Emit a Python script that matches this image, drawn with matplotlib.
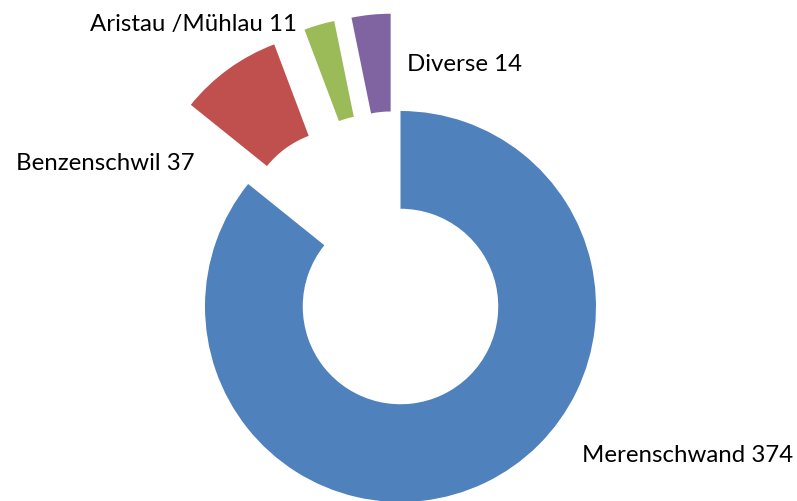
import matplotlib
matplotlib.use("Agg")
import matplotlib.pyplot as plt

plt.rcParams['font.family'] = ['Lato', 'DejaVu Sans']

# data, clockwise from 12 o'clock
orte = ["Merenschwand", "Benzenschwil", "Aristau /Mühlau", "Diverse"]
anzahl = [374, 37, 11, 14]
farben = ["#4F81BD", "#C0504D", "#9BBB59", "#8064A2"]
explode = [0, 0.5, 0.5, 0.5]

# label anchor (pixel, left/baseline) for each slice
label_px = [(582, 462), (16, 170), (90, 31), (407, 71)]

W, H = 797, 501
cx, cy, R = 400.5, 306.5, 195.5  # pie centre and radius in pixels

fig = plt.figure(figsize=(W / 100, H / 100), dpi=100)
ax = fig.add_axes([0, 0, 1, 1])

ax.pie(anzahl, colors=farben, startangle=90, counterclock=False,
       explode=explode, radius=1,
       wedgeprops=dict(width=0.5, linewidth=0))

ax.set_aspect('auto')
ax.set_xlim(-cx / R, (W - cx) / R)
ax.set_ylim(-(H - cy) / R, cy / R)
ax.axis('off')

for name, n, (px, py) in zip(orte, anzahl, label_px):
    fig.text(px / W, 1 - py / H, f"{name} {n}", ha='left', va='baseline',
             fontsize=17.3, color='black')

fig.savefig("out.png", dpi=100, facecolor='white')
